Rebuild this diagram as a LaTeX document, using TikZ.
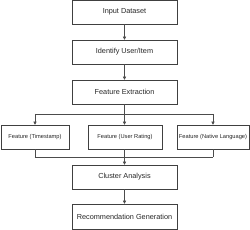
\documentclass[tikz,border=0pt]{standalone}
\usepackage{fontspec}
\setmainfont{Liberation Sans}
\usetikzlibrary{arrows.meta}
\begin{document}
\begin{tikzpicture}[x=1pt,y=-1pt,
  mainbox/.style={draw=black!75,line width=0.5pt,minimum width=105pt,minimum height=24pt,inner sep=0pt,font=\fontsize{7.3}{8}\selectfont,text=black!85},
  featbox/.style={draw=black!75,line width=0.5pt,minimum height=24pt,inner sep=0pt,font=\fontsize{5.7}{7}\selectfont,text=black!85},
  conn/.style={draw=black!70,line width=0.5pt},
  arr/.style={conn,-{Triangle[length=3pt,width=3pt]}}]
\useasboundingbox (0,0) rectangle (250,230);
\node[mainbox] (input) at (124.5,12) {Input Dataset};
\node[mainbox] (ident) at (124.5,52) {Identify User/Item};
\node[mainbox] (extract) at (124.5,92) {Feature Extraction};
\node[featbox,minimum width=68pt] (ft) at (35,137) {Feature (Timestamp)};
\node[featbox,minimum width=74pt] (fu) at (125,137) {Feature (User Rating)};
\node[featbox,minimum width=72pt] (fn) at (213,137) {Feature (Native Language)};
\node[mainbox] (cluster) at (124.5,177) {Cluster Analysis};
\node[mainbox,minimum height=25pt] (rec) at (124.5,216.5) {Recommendation Generation};
\coordinate (sp) at (124.5,114);
\coordinate (spl) at (35,114);
\coordinate (spr) at (213,114);
\coordinate (jn) at (124.5,157);
\coordinate (jl) at (35,157);
\coordinate (jr) at (213,157);
\draw[arr] (input) -- (ident);
\draw[arr] (ident) -- (extract);
\draw[conn] (extract) -- (sp);
\draw[conn] (spl) -- (spr);
\draw[arr] (spl) -- (ft);
\draw[arr] (sp) -- (fu.north -| sp);
\draw[arr] (spr) -- (fn);
\draw[conn] (ft) -- (jl);
\draw[conn] (fn) -- (jr);
\draw[conn] (jl) -- (jr);
\draw[conn] (fu.south -| jn) -- (jn);
\draw[arr] (jn) -- (cluster);
\draw[arr] (cluster) -- (rec);
\end{tikzpicture}
\end{document}
